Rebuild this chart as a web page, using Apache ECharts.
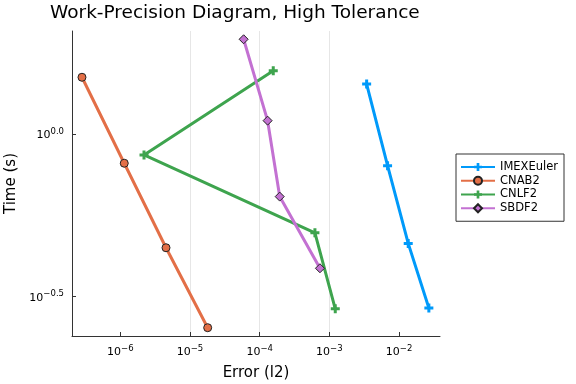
<!DOCTYPE html>
<html>
<head>
<meta charset="utf-8">
<script src="https://cdn.jsdelivr.net/npm/echarts@6/dist/echarts.min.js"></script>
<style>html,body{margin:0;padding:0;background:#fff}#c{width:576px;height:384px}</style>
</head>
<body>
<div id="c"></div>
<script>
// ---- data (error l2, time s) ----
const seriesNames = ['IMEXEuler', 'CNAB2', 'CNLF2', 'SBDF2'];
const imexErr  = [3.43e-3, 6.85e-3, 1.355e-2, 2.68e-2];
const imexTime = [1.424, 0.799, 0.461, 0.2918];
const cnab2Err  = [2.82e-7, 1.14e-6, 4.53e-6, 1.795e-5];
const cnab2Time = [1.494, 0.813, 0.447, 0.2538];
const cnlf2Err  = [1.567e-4, 2.19e-6, 6.21e-4, 1.216e-3];
const cnlf2Time = [1.565, 0.862, 0.497, 0.290];
const sbdf2Err  = [5.89e-5, 1.30e-4, 1.94e-4, 7.33e-4];
const sbdf2Time = [1.955, 1.099, 0.642, 0.3866];
const xTicks = [1e-6, 1e-5, 1e-4, 1e-3, 1e-2];
const yTicks = [Math.pow(10, -0.5), 1];
const xRange = [Math.pow(10, -6.693), Math.pow(10, -1.412)];
const yRange = [Math.pow(10, -0.621), Math.pow(10, 0.3166)];

const colors = ['#009AFA', '#E36F47', '#3EA44E', '#C371D2'];
const crossPath = 'path://M-1,-3H1V-1H3V1H1V3H-1V1H-3V-1H-1Z';

function zip(a, b) { return a.map((v, i) => [v, b[i]]); }
function fmtExp(e, digits) {
  let s = digits ? e.toFixed(digits) : String(Math.round(e));
  if (s === '-0.0') s = '0.0';
  return s.replace('-', '\u2212');
}
const richLbl = {
  b: { fontSize: 11, fontFamily: 'DejaVu Sans', color: '#000', lineHeight: 14, verticalAlign: 'bottom' },
  s: { fontSize: 8.5, fontFamily: 'DejaVu Sans', color: '#000', lineHeight: 14, verticalAlign: 'top' }
};

function mk(name, idx, xs, ys, symbol, size, withBorder) {
  return {
    name: name, type: 'line', data: zip(xs, ys),
    symbol: symbol, symbolSize: size, showSymbol: true,
    lineStyle: { color: colors[idx], width: 3 },
    itemStyle: { color: colors[idx], borderColor: withBorder ? '#222' : colors[idx], borderWidth: withBorder ? 1 : 0 },
    emphasis: { disabled: true },
    z: 2 + idx
  };
}

const chart = echarts.init(document.getElementById('c'), null, { renderer: 'canvas' });
chart.setOption({
  animation: false,
  backgroundColor: '#fff',
  title: {
    text: 'Work-Precision Diagram, High Tolerance',
    left: 45, top: -1,
    textStyle: { fontFamily: 'DejaVu Sans', fontSize: 18.5, fontWeight: 'normal', color: '#000' }
  },
  grid: { left: 72, right: 136, top: 31, bottom: 48, containLabel: false, outerBoundsMode: 'none' },
  legend: {
    orient: 'vertical', left: 456, top: 154,
    padding: [7, 6, 7, 4],
    itemWidth: 34, itemHeight: 10, itemGap: 1.75,
    borderColor: '#333', borderWidth: 1, borderRadius: 0,
    textStyle: { fontFamily: 'DejaVu Sans', fontSize: 11.5, color: '#000' },
    data: seriesNames
  },
  xAxis: {
    type: 'log', logBase: 10, min: xRange[0], max: xRange[1],
    name: 'Error (l2)', nameLocation: 'middle', nameGap: 30,
    nameTextStyle: { fontFamily: 'DejaVu Sans', fontSize: 15, color: '#000' },
    axisLine: { show: true, onZero: false, lineStyle: { color: '#333', width: 1 } },
    axisTick: { show: true, inside: true, length: 4, lineStyle: { color: '#333' }, customValues: xTicks },
    axisLabel: {
      customValues: xTicks, margin: 8,
      formatter: v => '{b|10}{s|' + fmtExp(Math.log10(v), 0) + '}',
      rich: richLbl
    },
    splitLine: { show: true, showMinLine: false, showMaxLine: false, lineStyle: { color: '#e6e6e6', width: 1 } },
    minorTick: { show: false }
  },
  yAxis: {
    type: 'log', logBase: 10, min: yRange[0], max: yRange[1],
    name: 'Time (s)', nameLocation: 'middle', nameGap: 53, nameRotate: 90,
    nameTextStyle: { fontFamily: 'DejaVu Sans', fontSize: 15, color: '#000' },
    axisLine: { show: true, onZero: false, lineStyle: { color: '#333', width: 1 } },
    axisTick: { show: true, inside: true, length: 4, lineStyle: { color: '#333' }, customValues: yTicks },
    axisLabel: {
      customValues: yTicks, margin: 8,
      formatter: v => '{b|10}{s|' + fmtExp(Math.log10(v), 1) + '}',
      rich: richLbl
    },
    splitLine: { show: true, showMinLine: false, showMaxLine: false, lineStyle: { color: '#e6e6e6', width: 1 } }
  },
  series: [
    mk('IMEXEuler', 0, imexErr, imexTime, crossPath, 9, false),
    mk('CNAB2', 1, cnab2Err, cnab2Time, 'circle', 8, true),
    mk('CNLF2', 2, cnlf2Err, cnlf2Time, crossPath, 9, false),
    mk('SBDF2', 3, sbdf2Err, sbdf2Time, 'diamond', 9, true)
  ]
});
</script>
</body>
</html>
